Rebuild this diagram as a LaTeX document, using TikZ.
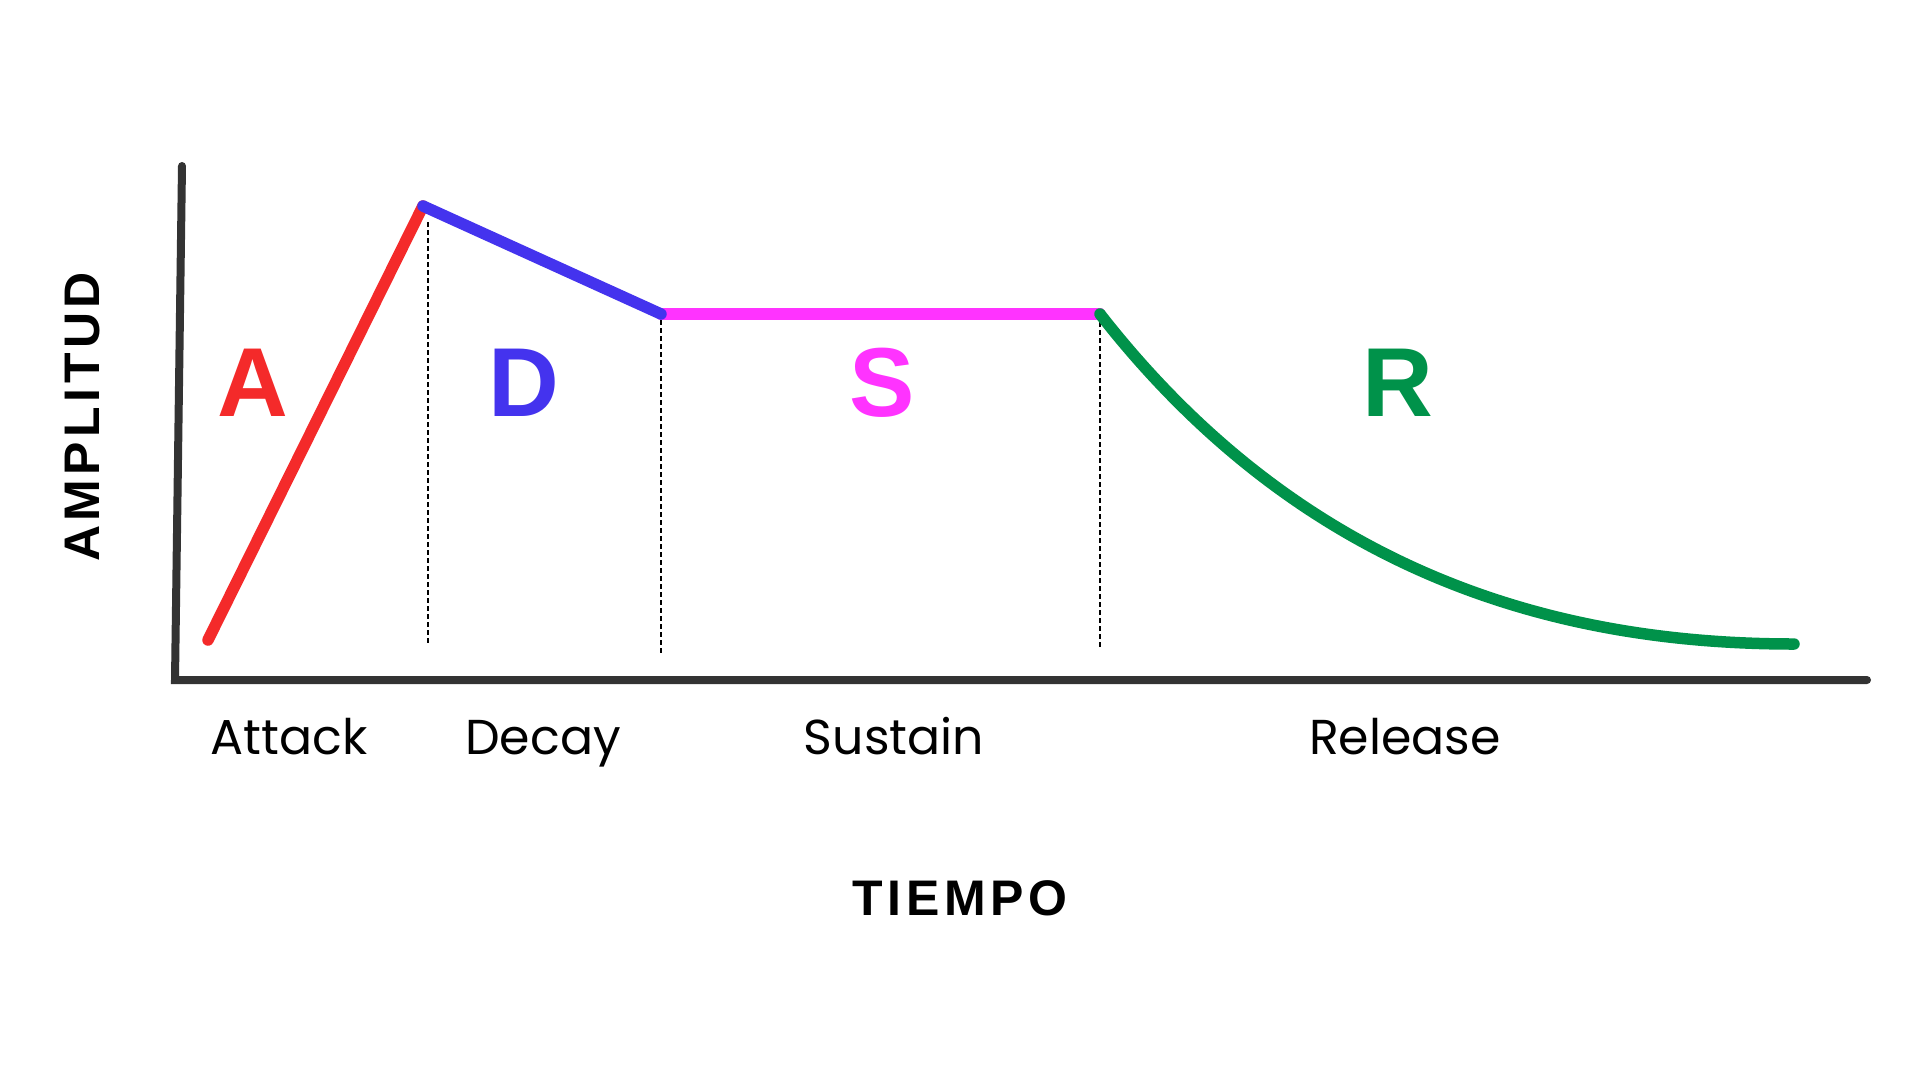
\documentclass[tikz,border=0pt]{standalone}
\usepackage{fontspec}
\setmainfont{Liberation Sans}
\newfontfamily\lblfont{Poppins}
\newfontfamily\capfont[LetterSpace=9]{Liberation Sans}
\definecolor{cA}{HTML}{F42A2A}
\definecolor{cD}{HTML}{4433EE}
\definecolor{cS}{HTML}{FF33FF}
\definecolor{cR}{HTML}{00924A}
\definecolor{axisc}{HTML}{333333}
\begin{document}
\begin{tikzpicture}[x=1pt,y=-1pt,
  axisline/.style={axisc,line width=8pt,line cap=round},
  env/.style={line width=11.5pt,line cap=round},
  guide/.style={black,line width=1.6pt,dash pattern=on 5pt off 3pt},
  bigletter/.style={font=\bfseries\fontsize{98}{98}\selectfont,inner sep=0pt},
  phase/.style={font=\lblfont\fontsize{49}{49}\selectfont,inner sep=0pt},
  axlabel/.style={font=\capfont\bfseries\fontsize{50}{50}\selectfont,inner sep=0pt}]
\useasboundingbox[fill=white] (0,0) rectangle (1920,1080);
% axes
\coordinate (ytop) at (182,166);
\coordinate (orig) at (175,680);
\coordinate (xend) at (1867,680);
\draw[axisline] (ytop) -- (orig) -- (xend);
% envelope points
\coordinate (p0) at (208,640);
\coordinate (p1) at (423,206);
\coordinate (p2) at (661,314);
\coordinate (p3) at (1100,314);
\coordinate (p4) at (1794,644);
% guide lines
\coordinate (g1t) at (428,222);
\coordinate (g1b) at (428,645);
\coordinate (g2t) at (661,320);
\coordinate (g2b) at (661,653);
\coordinate (g3t) at (1100,322);
\coordinate (g3b) at (1100,649);
\draw[guide] (g1t) -- (g1b);
\draw[guide] (g2t) -- (g2b);
\draw[guide] (g3t) -- (g3b);
% envelope
\draw[env,cA] (p0) -- (p1);
\draw[env,cS] (p2) -- (p3);
\draw[env,cD] (p1) -- (p2);
\draw[env,cR] (p3) .. controls (1300,570) and (1550,644) .. (p4);
% letters
\node[bigletter,text=cA] (lA) at (253,383) {A};
\node[bigletter,text=cD] (lD) at (524,383) {D};
\node[bigletter,text=cS] (lS) at (882,383) {S};
\node[bigletter,text=cR] (lR) at (1398,383) {R};
% phase labels
\node[phase,anchor=base] (tA) at (289,754) {Attack};
\node[phase,anchor=base] (tD) at (543,754) {Decay};
\node[phase,anchor=base] (tS) at (894,754) {Sustain};
\node[phase,anchor=base] (tR) at (1405,754) {Release};
% axis titles
\node[axlabel] (tx) at (960,898) {TIEMPO};
\node[axlabel,rotate=90] (ty) at (83,417) {AMPLITUD};
\end{tikzpicture}
\end{document}
